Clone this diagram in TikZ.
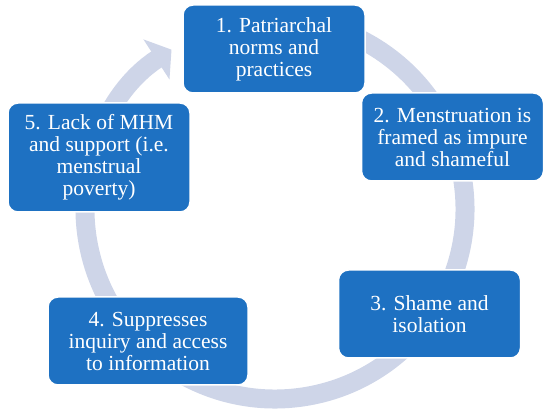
\documentclass[tikz,border=0pt]{standalone}
\usepackage{fontspec}
\setmainfont{Liberation Serif}
\usepackage{tikz}
\usetikzlibrary{calc}
\usetikzlibrary{positioning, arrows.meta}
\usepackage{xcolor}

\definecolor{boxblue}{RGB}{30,113,194}
\definecolor{ringgray}{RGB}{206,213,232}

\begin{document}
\begin{tikzpicture}[
		x=1pt, y=1pt,
		box/.style={draw=white, line width=1.5pt, fill=boxblue, rounded corners=10pt, align=center, text=white,
			minimum width=182pt, minimum height=88pt, inner sep=0pt,
			font=\rmfamily\fontsize{21.5}{22}\selectfont},
		ring/.style={draw=ringgray, line width=19pt, -{Triangle[length=18pt, width=47pt]}}
		]
		
		\useasboundingbox (0,0) rectangle (550,415);
		
		% Vong tron mui ten (nen)
		\coordinate (hub) at (275,206);
		\draw[ring] (hub) ++(100:190) arc[start angle=100, end angle=-237, radius=190];
		
		% Cac khoi
		\node[box] (norms) at (274,366) {1. Patriarchal\\ norms and\\ practices};
		\node[box] (impure) at (452.5,278) {2. Menstruation is\\ framed as impure\\ and shameful};
		\node[box] (shame) at (429.5,101) {3. Shame and\\ isolation};
		\node[box, minimum width=200pt] (inquiry) at (148,74) {4. Suppresses\\ inquiry and access\\ to information};
		\node[box, minimum height=109pt] (poverty) at (99,257.5) {5. Lack of MHM\\ and support (i.e.\\ menstrual\\ poverty)};
		
	\end{tikzpicture}
\end{document}
